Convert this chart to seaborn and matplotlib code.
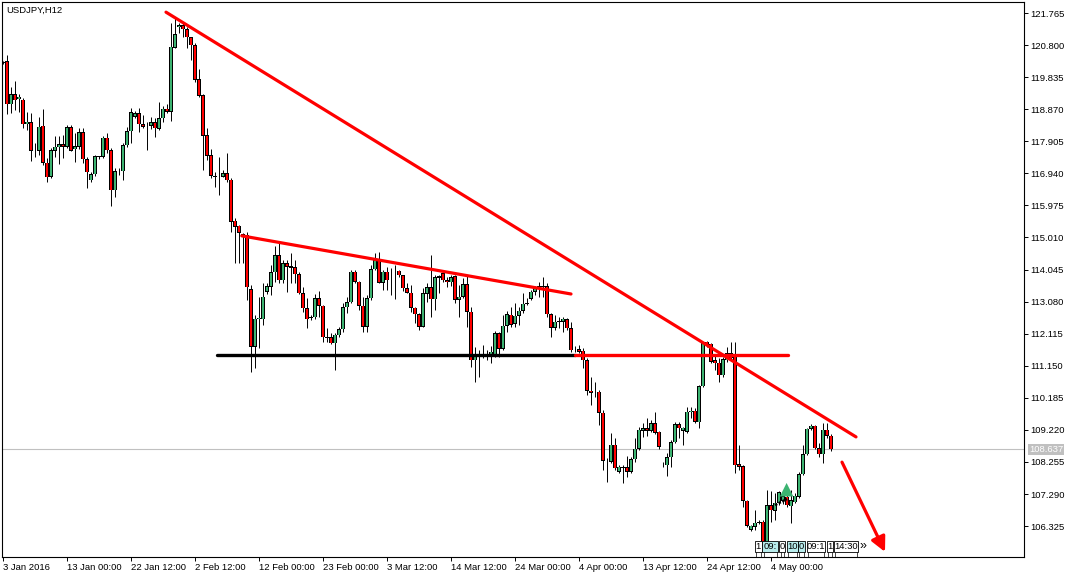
import numpy as np
import pandas as pd
import matplotlib
matplotlib.use("Agg")
import matplotlib.pyplot as plt
import matplotlib.transforms as mtransforms
from matplotlib.patches import Rectangle
import seaborn as sns

# ---------------- data ----------------
symbol_title = "USDJPY,H12"

opens = [
    120.26, 120.32, 119.02, 119.32, 119.17, 119.15, 118.42, 118.48, 117.62, 117.62,
    118.37, 117.26, 116.84, 117.62, 117.73, 117.82, 117.74, 118.33, 117.66, 117.74,
    118.18, 117.36, 116.73, 116.91, 117.44, 117.44, 118.01, 117.63, 116.43, 117.00,
    117.00, 117.78, 118.21, 118.65, 118.75, 118.42, 118.36, 118.37, 118.48, 118.28,
    118.60, 118.88, 118.80, 120.72, 121.33, 121.40, 121.28, 121.03, 120.80, 119.77,
    119.29, 118.08, 117.49, 116.87, 116.84, 116.84, 116.94, 116.74, 115.51, 115.36,
    115.11, 115.09, 113.45, 111.72, 112.55, 112.55, 113.38, 113.53, 113.96, 114.48,
    113.73, 114.23, 114.15, 114.12, 113.91, 113.33, 112.88, 112.60, 112.61, 113.18,
    112.95, 112.01, 112.01, 111.83, 112.07, 112.25, 112.91, 113.06, 113.98, 113.68,
    112.95, 112.33, 113.18, 114.06, 114.33, 113.65, 113.98, 113.73, 113.74, 114.01,
    113.87, 113.48, 113.35, 112.90, 112.70, 112.33, 113.31, 113.51, 113.15, 113.80,
    113.93, 113.73, 113.66, 113.85, 113.13, 113.23, 113.61, 112.78, 111.31, 111.45,
    111.50, 111.51, 111.47, 111.47, 112.13, 111.66, 112.35, 112.68, 112.41, 112.65,
    112.80, 113.01, 113.17, 113.37, 113.47, 113.52, 113.55, 112.70, 112.30, 112.47,
    112.47, 112.55, 112.28, 111.62, 111.65, 111.60, 111.32, 110.40, 110.37, 110.37,
    109.74, 108.29, 108.26, 108.77, 107.96, 108.08, 108.09, 107.96, 108.34, 108.65,
    109.20, 109.27, 109.20, 109.42, 109.17, 108.18, 108.16, 108.40, 108.85, 109.39,
    109.19, 109.17, 109.75, 109.80, 109.45, 110.54, 111.87, 111.81, 111.32, 111.24,
    110.87, 111.32, 111.52, 111.42, 108.19, 108.13, 107.09, 106.21, 106.31, 106.43,
    106.46, 105.73, 106.96, 106.79, 107.01, 107.08, 107.21, 106.93, 107.04, 107.21,
    107.89, 108.49, 109.25, 109.35, 108.67, 108.49, 109.22, 109.04,
]
highs = [
    120.32, 120.50, 119.53, 119.72, 119.32, 119.22, 118.80, 118.75, 117.84, 118.64,
    118.88, 117.39, 117.69, 118.06, 118.06, 118.09, 118.40, 118.40, 118.16, 118.31,
    118.30, 117.44, 116.99, 117.49, 117.47, 118.06, 118.14, 117.69, 117.09, 117.09,
    117.84, 118.34, 118.92, 118.82, 118.90, 118.70, 118.48, 118.63, 118.60, 119.10,
    118.98, 119.03, 121.46, 121.65, 121.46, 121.50, 121.35, 121.05, 120.85, 120.08,
    119.32, 118.30, 117.67, 116.97, 117.44, 117.03, 117.56, 116.79, 115.60, 115.39,
    115.14, 115.18, 113.58, 112.68, 113.23, 113.63, 113.63, 114.18, 114.76, 114.84,
    114.33, 114.33, 114.55, 114.33, 113.97, 113.51, 113.20, 112.68, 113.30, 113.41,
    112.97, 112.28, 112.13, 112.13, 112.33, 113.03, 113.23, 114.03, 114.03, 113.70,
    113.23, 113.28, 114.18, 114.53, 114.58, 114.03, 114.13, 114.08, 114.18, 114.02,
    113.88, 113.63, 113.58, 112.93, 112.73, 113.48, 113.63, 114.48, 113.88, 113.88,
    113.98, 113.83, 113.88, 113.88, 113.58, 113.78, 113.88, 112.93, 111.72, 111.62,
    111.77, 111.62, 111.75, 112.21, 112.18, 112.68, 112.81, 112.93, 113.03, 112.93,
    113.35, 113.18, 113.43, 113.56, 113.66, 113.81, 113.65, 112.75, 112.68, 112.63,
    112.63, 112.58, 112.48, 111.74, 111.77, 111.68, 111.37, 110.82, 110.67, 110.42,
    109.82, 108.37, 109.12, 108.97, 108.16, 108.16, 108.43, 108.41, 108.97, 109.30,
    109.42, 109.57, 109.52, 109.77, 109.19, 108.26, 108.53, 108.92, 109.47, 109.47,
    109.32, 109.92, 109.92, 109.87, 110.57, 111.87, 111.90, 111.84, 111.47, 111.37,
    111.42, 111.72, 111.87, 111.87, 108.77, 108.16, 107.11, 106.36, 106.81, 106.51,
    106.51, 107.41, 107.38, 107.31, 107.38, 107.35, 107.39, 107.41, 107.31, 107.96,
    108.77, 109.29, 109.39, 109.37, 108.82, 109.42, 109.42, 109.10,
]
lows = [
    120.22, 118.72, 118.75, 118.85, 118.80, 118.30, 118.24, 117.31, 117.44, 117.49,
    117.19, 116.69, 116.81, 117.44, 117.22, 117.39, 117.69, 117.60, 117.29, 117.67,
    117.24, 116.51, 116.69, 116.87, 117.36, 117.39, 117.54, 115.97, 116.23, 116.89,
    116.74, 117.74, 117.84, 118.60, 118.19, 118.30, 117.64, 118.27, 118.04, 118.24,
    118.49, 118.75, 118.52, 120.70, 121.15, 121.05, 120.70, 120.35, 119.70, 119.25,
    117.04, 117.34, 116.81, 116.54, 116.29, 116.83, 116.69, 115.18, 114.24, 114.24,
    114.24, 113.13, 110.97, 111.09, 111.68, 112.38, 113.30, 113.28, 113.68, 113.65,
    113.63, 113.38, 113.63, 113.63, 113.31, 112.78, 112.30, 112.53, 112.56, 112.63,
    111.87, 111.87, 111.80, 111.02, 112.02, 112.17, 112.73, 113.03, 113.65, 112.83,
    112.18, 112.16, 113.13, 114.03, 113.63, 113.43, 113.43, 113.28, 113.15, 113.83,
    113.41, 113.33, 112.76, 112.43, 112.23, 112.31, 113.08, 112.61, 112.83, 113.35,
    113.68, 113.53, 113.55, 113.03, 112.63, 113.18, 112.33, 111.12, 110.67, 110.82,
    111.37, 111.32, 111.22, 111.41, 111.41, 111.62, 112.17, 112.33, 112.33, 112.38,
    112.73, 112.98, 113.13, 113.28, 113.23, 113.23, 112.63, 112.03, 112.23, 112.28,
    112.17, 112.23, 111.57, 111.56, 111.52, 111.08, 110.27, 109.97, 110.22, 109.37,
    108.01, 107.66, 108.21, 108.01, 107.93, 107.63, 107.81, 107.93, 108.26, 108.61,
    109.02, 109.04, 109.17, 109.10, 108.64, 108.11, 107.84, 108.11, 108.82, 108.97,
    108.77, 109.14, 109.57, 109.44, 109.27, 110.50, 111.70, 111.24, 111.02, 110.67,
    110.82, 111.26, 111.32, 107.91, 108.01, 106.91, 106.29, 106.19, 106.21, 106.39,
    105.55, 105.64, 106.45, 106.51, 106.96, 106.99, 106.91, 106.43, 107.03, 107.16,
    107.86, 108.47, 109.22, 108.64, 108.40, 108.23, 108.97, 108.59,
]
closes = [
    120.28, 119.02, 119.32, 119.14, 119.25, 118.42, 118.49, 117.62, 117.60, 118.34,
    117.26, 116.82, 117.64, 117.74, 117.82, 117.74, 118.33, 117.62, 117.76, 118.18,
    117.36, 116.97, 116.92, 117.46, 117.45, 118.01, 117.63, 116.43, 117.00, 117.01,
    117.78, 118.21, 118.78, 118.75, 118.42, 118.34, 118.37, 118.48, 118.30, 118.60,
    118.88, 118.80, 120.75, 121.12, 121.40, 121.27, 121.03, 120.80, 119.75, 119.27,
    118.07, 117.47, 116.87, 116.84, 116.83, 116.95, 116.74, 115.49, 115.33, 115.15,
    115.06, 113.51, 111.72, 112.56, 112.59, 113.23, 113.55, 113.96, 114.48, 113.73,
    114.23, 114.13, 114.10, 113.91, 113.33, 112.88, 112.55, 112.61, 113.18, 112.95,
    112.01, 112.00, 111.83, 112.08, 112.25, 112.91, 113.06, 113.98, 113.68, 112.95,
    112.33, 113.18, 114.06, 114.33, 113.65, 113.98, 113.73, 113.74, 113.73, 113.87,
    113.48, 113.35, 112.90, 112.70, 112.33, 113.33, 113.51, 113.15, 113.81, 113.85,
    113.73, 113.66, 113.81, 113.13, 113.23, 113.61, 112.78, 111.32, 111.42, 111.50,
    111.51, 111.50, 111.57, 112.13, 111.66, 112.35, 112.70, 112.38, 112.65, 112.80,
    113.01, 113.05, 113.37, 113.48, 113.55, 113.55, 112.70, 112.30, 112.47, 112.50,
    112.56, 112.28, 111.62, 111.63, 111.57, 111.32, 110.40, 110.34, 110.36, 109.74,
    108.29, 108.28, 108.77, 108.06, 108.11, 108.09, 107.96, 108.34, 108.65, 109.22,
    109.27, 109.20, 109.42, 109.14, 108.71, 108.19, 108.40, 108.85, 109.39, 109.27,
    109.29, 109.77, 109.80, 109.47, 110.54, 111.83, 111.77, 111.27, 111.22, 110.87,
    111.34, 111.52, 111.38, 108.16, 108.11, 107.09, 106.33, 106.33, 106.43, 106.44,
    105.73, 106.96, 106.81, 107.03, 107.34, 107.23, 106.96, 107.11, 107.24, 107.89,
    108.49, 109.25, 109.35, 108.67, 108.49, 109.22, 109.04, 108.64,
]

date_labels = ["3 Jan 2016", "13 Jan 00:00", "22 Jan 12:00", "2 Feb 12:00",
               "12 Feb 00:00", "23 Feb 00:00", "3 Mar 12:00", "14 Mar 12:00",
               "24 Mar 00:00", "4 Apr 00:00", "13 Apr 12:00", "24 Apr 12:00",
               "4 May 00:00"]
date_label_bars = [0, 16, 32, 48, 64, 80, 96, 112, 128, 144, 160, 176, 192]

price_ticks = [106.325, 107.290, 108.255, 109.220, 110.185, 111.150, 112.115,
               113.080, 114.045, 115.010, 115.975, 116.940, 117.905, 118.870,
               119.835, 120.800, 121.765]
current_price = 108.637

# drawn analysis objects (bar index, price)
main_trend_bars = [40.75, 213.25]
main_trend_prices = [121.79, 109.01]
upper_trend_bars = [59.7, 142.0]
upper_trend_prices = [115.06, 113.31]
support_bars = [53.5, 143.0]
resist_bars = [143.0, 196.25]
neckline_price = 111.47
arrow_from = (209.75, 108.25)
arrow_to = (220.5, 105.55)
buy_marker = (195.9, 107.42)
trade_line_bars = [193.0, 196.0]
trade_line_prices = [106.96, 107.14]

event_labels = ["1", "09:", "0", "10", "0", "09:1", "1", "14:30"]
event_highlight = [False, True, False, True, True, False, False, False]

# ---------------- style ----------------
sns.set_theme(style="white")
plt.rcParams["font.family"] = ["Liberation Sans", "DejaVu Sans"]
FS = 6.8

W, H = 1077, 578
fig = plt.figure(figsize=(W / 100, H / 100), dpi=100, facecolor="white")
ax = fig.add_axes([2 / W, 21 / H, 1022 / W, 555 / H])
ax.set_facecolor("white")

n = len(opens)
x = np.arange(n)
o = np.array(opens); h = np.array(highs); l = np.array(lows); c = np.array(closes)

ax.set_xlim(-0.25, 255.25)
ax.set_ylim(105.396, 122.096)

# current price line
ax.axhline(current_price, color="#c0c0c0", lw=0.8, zorder=1)

# wicks
ax.vlines(x, l, h, color="black", lw=0.7, zorder=2)
# bodies: colour fill, then a thin black outline
bull = c >= o
body_lo = np.minimum(o, c)
body_h = np.maximum(np.abs(c - o), 0.015)
colors = np.where(bull, "#3cb371", "#ff0000")
ax.bar(x, body_h, bottom=body_lo, width=0.78, color="black",
       edgecolor="none", linewidth=0, zorder=3)
ax.bar(x, np.maximum(body_h - 0.03, 0), bottom=body_lo + 0.015, width=0.42,
       color=colors, edgecolor="none", linewidth=0, zorder=4)

# trend lines via seaborn
def seg(xs, ys, color, lw):
    df = pd.DataFrame({"bar": xs, "price": ys})
    sns.lineplot(data=df, x="bar", y="price", ax=ax, color=color, lw=lw,
                 legend=False, zorder=5, estimator=None, sort=False)

seg(main_trend_bars, main_trend_prices, "#ff0000", 2.3)
seg(upper_trend_bars, upper_trend_prices, "#ff0000", 2.3)
seg(support_bars, [neckline_price] * 2, "black", 2.4)
seg(resist_bars, [neckline_price] * 2, "#ff0000", 2.4)

# trade line and buy arrow
ax.plot(trade_line_bars, trade_line_prices, color="black", lw=1.8,
        ls=(0, (1, 0.6)), zorder=6)
ax.scatter([buy_marker[0]], [buy_marker[1]], marker="^", s=95,
           color="#3cb371", edgecolors="none", zorder=7)

# red projection arrow
ax.annotate("", xy=arrow_to, xytext=arrow_from,
            arrowprops=dict(arrowstyle="-|>", color="#ff0000", lw=2.3,
                            mutation_scale=22, shrinkA=0, shrinkB=0),
            zorder=6)

# event labels at bottom
tr = mtransforms.blended_transform_factory(ax.transData, ax.transAxes)
box_edges = [(188.0, 189.7), (189.85, 193.85), (194.1, 195.5), (195.9, 198.8),
             (198.8, 200.5), (200.9, 205.5), (205.9, 207.6), (207.8, 213.8)]
yb, hb = 0.009, 0.0205
for (x0, x1), txt, hl in zip(box_edges, event_labels, event_highlight):
    ax.add_patch(Rectangle((x0, yb), x1 - x0, hb, transform=tr,
                           facecolor="#b8ecec" if hl else "white",
                           edgecolor="black", lw=0.6, zorder=8))
    ax.text((x0 + x1) / 2, yb + hb / 2, txt, transform=tr, ha="center",
            va="center", fontsize=FS, color="black", zorder=9)
    ax.vlines([x0 + 0.3, x1 - 0.3], 0.0, yb, transform=tr, color="black",
              lw=0.5, zorder=8)
ax.text(214.1, yb + hb / 2, "\u00bb", transform=tr, ha="left", va="center",
        fontsize=9, color="black", zorder=9)

# title
ax.text(0.004, 0.994, symbol_title, transform=ax.transAxes, ha="left",
        va="top", fontsize=FS, color="black", zorder=9)

# axes / ticks
for s in ax.spines.values():
    s.set_visible(True)
    s.set_color("black")
    s.set_linewidth(0.8)

ax.yaxis.tick_right()
ax.set_yticks(price_ticks)
ax.set_yticklabels([f"{p:.3f}" for p in price_ticks])
ax.tick_params(axis="y", direction="out", length=3, width=0.7, pad=1.5,
               labelsize=FS, colors="black", right=True, left=False)

ax.set_xticks(date_label_bars)
ax.set_xticklabels(date_labels)
ax.tick_params(axis="x", direction="out", length=3, width=0.7, pad=1.0,
               labelsize=FS, colors="black", bottom=True)
for lbl in ax.get_xticklabels():
    lbl.set_ha("left")

ax.set_xlabel("")
ax.set_ylabel("")
ax.grid(False)

# current price tag
ax.annotate(f"{current_price:.3f}", xy=(1.0, current_price),
            xycoords=mtransforms.blended_transform_factory(ax.transAxes, ax.transData),
            xytext=(3.5, 0), textcoords="offset points", ha="left",
            va="center", fontsize=FS, color="white",
            bbox=dict(boxstyle="square,pad=0.12", facecolor="#c0c0c0",
                      edgecolor="none"), annotation_clip=False)

fig.savefig("out.png", dpi=100, facecolor="white")
